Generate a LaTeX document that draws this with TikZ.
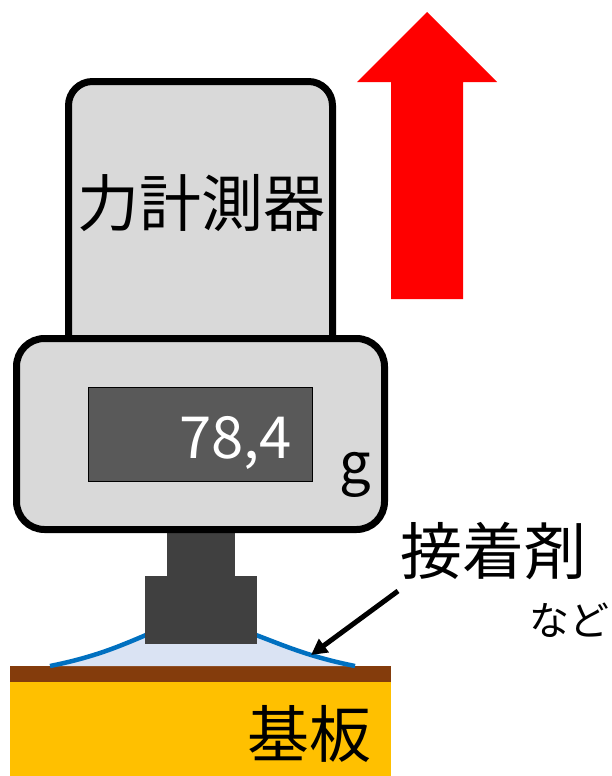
\documentclass[tikz,border=0pt]{standalone}
\usepackage{fontspec}
\setmainfont{Noto Sans CJK JP}
\usetikzlibrary{positioning,arrows.meta}
\definecolor{casing}{HTML}{D9D9D9}
\definecolor{screen}{HTML}{595959}
\definecolor{probe}{HTML}{404040}
\definecolor{glue}{HTML}{DAE3F3}
\definecolor{glueline}{HTML}{0070C0}
\definecolor{film}{HTML}{843C0C}
\definecolor{board}{HTML}{FFC000}

\begin{document}
\begin{tikzpicture}[
  x=1pt, y=-1pt,
  body/.style={draw=black, fill=casing, line width=7pt},
  big/.style={font=\fontsize{62}{62}\selectfont, inner sep=0pt},
  arr/.style={-{Triangle[length=16pt,width=16pt]}, line width=5pt, black}
]
  \useasboundingbox (0,0) rectangle (612,776);

  % Pull direction
  \fill[red] (391,299) -- (391,82) -- (357,82) -- (427,12)
    -- (497,82) -- (463,82) -- (463,299) -- cycle;

  % Force gauge: upper housing
  \draw[body, rounded corners=24pt] (68.5,400) -- (68.5,81.5) -- (332.5,81.5) -- (332.5,400);
  \node[big] (gauge) at (201,203) {力計測器};

  % Probe stem (behind the lower housing)
  \fill[probe] (167,500) rectangle (235,577);

  % Lower housing with display
  \draw[body, rounded corners=28pt] (16.5,338.5) rectangle (384.5,529.5);
  \node[draw=black, fill=screen, line width=1pt, minimum width=224pt,
        minimum height=94pt, anchor=north west, inner sep=0pt] (display) at (88,387) {};
  \node[text=white, font=\fontsize{58}{58}\selectfont, anchor=base east,
        inner sep=0pt] (reading) at (292,458) {78,4};
  \node[font=\fontsize{56}{56}\selectfont, anchor=base, inner sep=0pt] (unit) at (355,483) {g};

  % Substrate
  \fill[board] (10,682) rectangle (391,776);
  \fill[film] (10,666) rectangle (391,682);
  \node[big, anchor=south east] (board) at (372,763) {基板};

  % Adhesive fillet
  \fill[glue] (50,666) .. controls (95,657) and (120,646) .. (146,635)
    -- (256,635) .. controls (285,646) and (310,657) .. (355,666) -- cycle;
  \draw[glueline, line width=4.5pt] (50,666) .. controls (95,657) and (120,646) .. (146,635);
  \draw[glueline, line width=4.5pt] (256,635) .. controls (285,646) and (310,657) .. (355,666)
    coordinate[pos=0.62] (gluetip);

  % Probe tip
  \fill[probe] (145,576) rectangle (257,644);

  % Label
  \node[big, anchor=north west] (adhesive) at (400,522) {接着剤};
  \node[font=\fontsize{40}{40}\selectfont, inner sep=0pt, anchor=north east] (etc) at (610,603) {など};
  \coordinate (lead) at (398,591);
  \draw[arr] (lead) -- (gluetip);
\end{tikzpicture}
\end{document}
